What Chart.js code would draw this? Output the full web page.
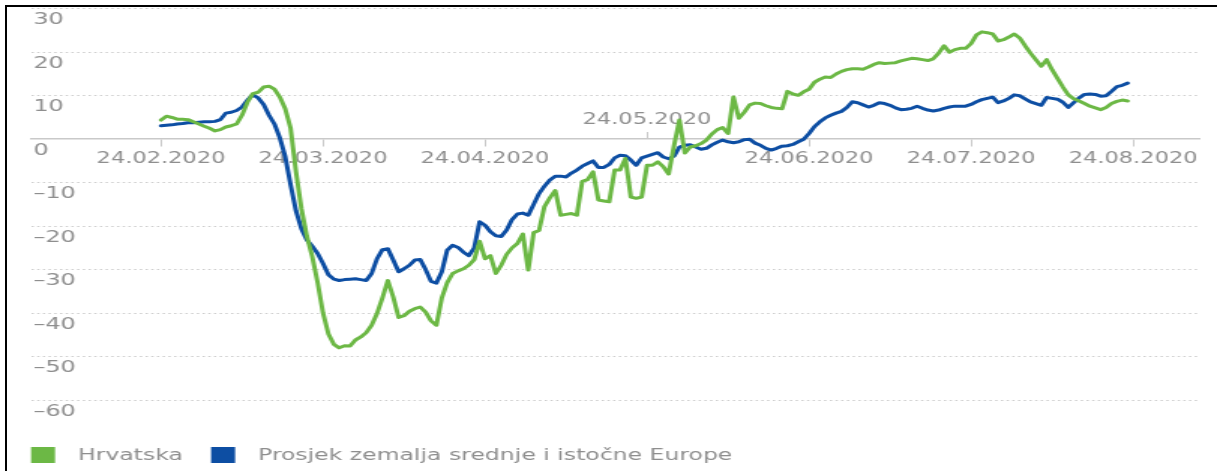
<!DOCTYPE html>
<html><head><meta charset="utf-8">
<script src="https://cdn.jsdelivr.net/npm/chart.js@4.4.1/dist/chart.umd.min.js"></script>
<style>
html,body{margin:0;padding:0;background:#fff;overflow:hidden}
#stage{position:relative;width:1217px;height:471px;overflow:hidden;background:#fff}
#wrap{position:absolute;left:0;top:0;width:811px;height:471px;transform:scale(1.50062,1);transform-origin:0 0}
#frame{position:absolute;left:5px;top:5px;right:0;bottom:0;border-top:2px solid #000;border-left:2px solid #000;pointer-events:none}
</style></head>
<body><div id="stage"><div id="wrap"><canvas id="c"></canvas></div><div id="frame"></div></div>
<script>
// ---- data (daily values, index 0 = 24.02.2020) ----
const seriesNames = ['Hrvatska', 'Prosjek zemalja srednje i istočne Europe'];
const tickLabels = ['24.02.2020','24.03.2020','24.04.2020','24.05.2020','24.06.2020','24.07.2020','24.08.2020'];
const tickDays = [0, 30, 60, 90, 120, 150, 180];
const upperTickDays = [90];
const yTicks = [-60, -50, -40, -30, -20, -10, 0, 10, 20, 30];

const hrvatska = [4.4,5.3,5.0,4.6,4.6,4.5,4.0,3.5,3.0,2.5,
  1.9,2.2,2.8,3.1,3.5,5.5,8.5,10.5,10.8,12.0,
  12.2,11.5,9.7,7.0,2.5,-7.5,-16,-22.3,-27,-33,
  -40,-44.8,-47.2,-48,-47.5,-47.6,-46.2,-45.5,-44.5,-42.8,
  -40.1,-36.5,-32.5,-36.3,-41,-40.6,-39.6,-39,-38.6,-39.8,
  -41.8,-42.8,-36.5,-33,-30.9,-30.3,-29.8,-29,-27.7,-23.5,
  -27.5,-26.8,-30.9,-29,-26.5,-25,-24,-21.8,-30.1,-21.5,
  -21.0,-15.5,-13.5,-11.8,-17.5,-17.3,-17.1,-17.5,-9.7,-9.3,
  -7.5,-14,-14.2,-14.4,-7.1,-7.1,-4.4,-13.3,-13.6,-13.3,
  -6,-6,-5.2,-6.3,-8.0,-1.5,4.4,-3.2,-1.8,-1.5,
  -1.0,-0.2,1.2,2.2,2.7,1.3,9.7,4.8,6.2,7.9,
  8.3,8.2,7.7,7.3,7.1,7.0,11.0,10.4,10.1,10.9,
  11.5,13.1,13.8,14.3,14.2,15.0,15.6,16.0,16.2,16.2,
  16.1,16.6,17.2,17.6,17.4,17.5,17.6,18.0,18.3,18.6,
  18.5,18.3,18.1,18.5,19.8,21.5,20.0,20.6,20.9,20.9,
  22.0,24.0,24.7,24.5,24.2,22.6,22.9,23.5,24.2,23.3,
  21.5,19.8,18.3,16.8,18.3,16.0,14.0,12.0,10.2,9.3,
  8.8,8.2,7.6,7.2,6.8,7.3,8.2,8.7,9.0,8.8];

const prosjek = [3.1,3.2,3.3,3.5,3.6,3.8,3.8,3.9,4.0,4.0,
  4.1,4.5,6.0,6.2,6.6,7.4,9.0,10.2,9.5,8.0,
  5.5,3.5,0.3,-4.0,-10.5,-16.5,-20.6,-23.2,-24.6,-26.3,
  -28.6,-31.2,-32.2,-32.5,-32.3,-32.2,-32.1,-32.3,-32.5,-30.9,
  -27.5,-25.4,-25.2,-27.8,-30.5,-29.8,-29.0,-27.8,-27.7,-30.0,
  -32.7,-33.1,-30.5,-25.5,-24.4,-24.9,-26.0,-26.8,-25.0,-19.0,
  -19.8,-21.3,-22.2,-22.4,-20.9,-18.5,-17.2,-17.0,-17.5,-15.0,
  -12.5,-10.8,-9.4,-8.5,-8.5,-8.7,-7.8,-7.1,-6.2,-5.6,
  -5.0,-6.5,-6.5,-5.8,-4.3,-3.7,-3.8,-4.8,-6.0,-4.3,
  -3.9,-3.5,-3.1,-4.1,-4.5,-3.9,-1.8,-1.4,-1.3,-1.8,
  -2.3,-2.1,-1.3,-0.7,-0.2,-0.6,-0.8,-0.6,-0.1,0.0,
  -0.9,-1.4,-2.1,-2.5,-2.1,-1.6,-1.5,-1.2,-0.6,0.0,
  1.3,2.9,4.0,4.9,5.5,6.0,6.4,7.3,8.6,8.4,
  7.9,7.4,7.8,8.4,8.2,7.8,7.2,6.8,6.9,7.1,
  7.6,7.1,6.7,6.5,6.7,7.1,7.4,7.6,7.6,7.6,
  8.0,8.6,9.1,9.4,9.7,8.4,8.8,9.4,10.2,10.0,
  9.3,8.6,8.2,7.8,9.6,9.4,9.2,8.5,7.3,8.4,
  9.5,10.3,10.4,10.3,9.9,10.0,11.0,12.1,12.4,12.9];

// ---- styling ----
const GREEN = '#6cb845';
const BLUE = '#0d4ea3';
const GRID = '#cdcdcd';
const AXIS = '#c9c9c9';
const TEXT = '#8e8e8e';
Chart.defaults.font.family = "'DejaVu Sans', sans-serif";
Chart.defaults.color = TEXT;

const toPoints = arr => arr.map((v, i) => ({x: i, y: v}));
const fmt = v => v < 0 ? '\u2013' + Math.abs(v) : String(v);
const zeroPad = s => { s.paddingLeft = 0; s.paddingRight = 0; s.paddingTop = 0; s.paddingBottom = 0; };

const legendPlugin = {
  id: 'customLegend',
  afterDraw(chart) {
    const {ctx, chartArea} = chart;
    ctx.save();
    ctx.font = "15.7px 'DejaVu Sans', sans-serif";
    ctx.textBaseline = 'middle';
    ctx.textAlign = 'left';
    let x = chartArea.left;
    const y = 447;
    chart.data.datasets.forEach(ds => {
      ctx.fillStyle = ds.borderColor;
      ctx.fillRect(x, y, 16, 16);
      const tx = x + 31.3;
      ctx.fillStyle = TEXT;
      ctx.fillText(ds.label, tx, y + 8.5);
      x = tx + ctx.measureText(ds.label).width + 18.8;
    });
    ctx.restore();
  }
};

const xCommon = {
  type: 'linear', min: -24.07, max: 192.4,
  position: {y: 0},
  afterFit: zeroPad
};

new Chart(document.getElementById('c'), {
  type: 'line',
  data: {
    datasets: [
      {label: seriesNames[0], data: toPoints(hrvatska), borderColor: GREEN, backgroundColor: GREEN, borderWidth: 3, xAxisID: 'x', yAxisID: 'y'},
      {label: seriesNames[1], data: toPoints(prosjek), borderColor: BLUE, backgroundColor: BLUE, borderWidth: 3, xAxisID: 'x', yAxisID: 'y'}
    ]
  },
  options: {
    responsive: true, maintainAspectRatio: false, animation: false,
    layout: {padding: {left: 20.66, top: 8.8, right: 11.3, bottom: 71}},
    elements: {point: {radius: 0}, line: {tension: 0, borderJoinStyle: 'round', borderCapStyle: 'round'}},
    plugins: {legend: {display: false}, tooltip: {enabled: false}},
    scales: {
      x: Object.assign({}, xCommon, {
        afterBuildTicks: s => { s.ticks = tickDays.filter(d => !upperTickDays.includes(d)).map(v => ({value: v})); },
        ticks: {callback: v => tickLabels[tickDays.indexOf(v)], font: {size: 15}, padding: 4, maxRotation: 0, autoSkip: false},
        grid: {drawOnChartArea: false, drawTicks: true, tickLength: 7, tickColor: AXIS, tickWidth: 1},
        border: {display: true, color: AXIS, width: 1.5}
      }),
      x2: Object.assign({}, xCommon, {
        afterBuildTicks: s => { s.ticks = upperTickDays.map(v => ({value: v})); },
        ticks: {callback: v => tickLabels[tickDays.indexOf(v)], font: {size: 15}, padding: -21, maxRotation: 0, autoSkip: false},
        grid: {drawOnChartArea: false, drawTicks: true, tickLength: -7, tickColor: AXIS, tickWidth: 1},
        border: {display: false}
      }),
      y: {
        min: -60, max: 30, position: 'left',
        afterBuildTicks: s => { s.ticks = yTicks.map(v => ({value: v})); },
        ticks: {mirror: true, padding: 1.5, labelOffset: 11.5, font: {size: 16}, callback: v => fmt(v), autoSkip: false},
        grid: {drawTicks: false, lineWidth: 1, color: c => (c.tick && c.tick.value === 0) ? 'rgba(0,0,0,0)' : GRID},
        border: {display: false, dash: [1.5, 2.3]},
        afterFit: s => { s.width = 0; zeroPad(s); }
      }
    }
  },
  plugins: [legendPlugin]
});
</script>
</body></html>
